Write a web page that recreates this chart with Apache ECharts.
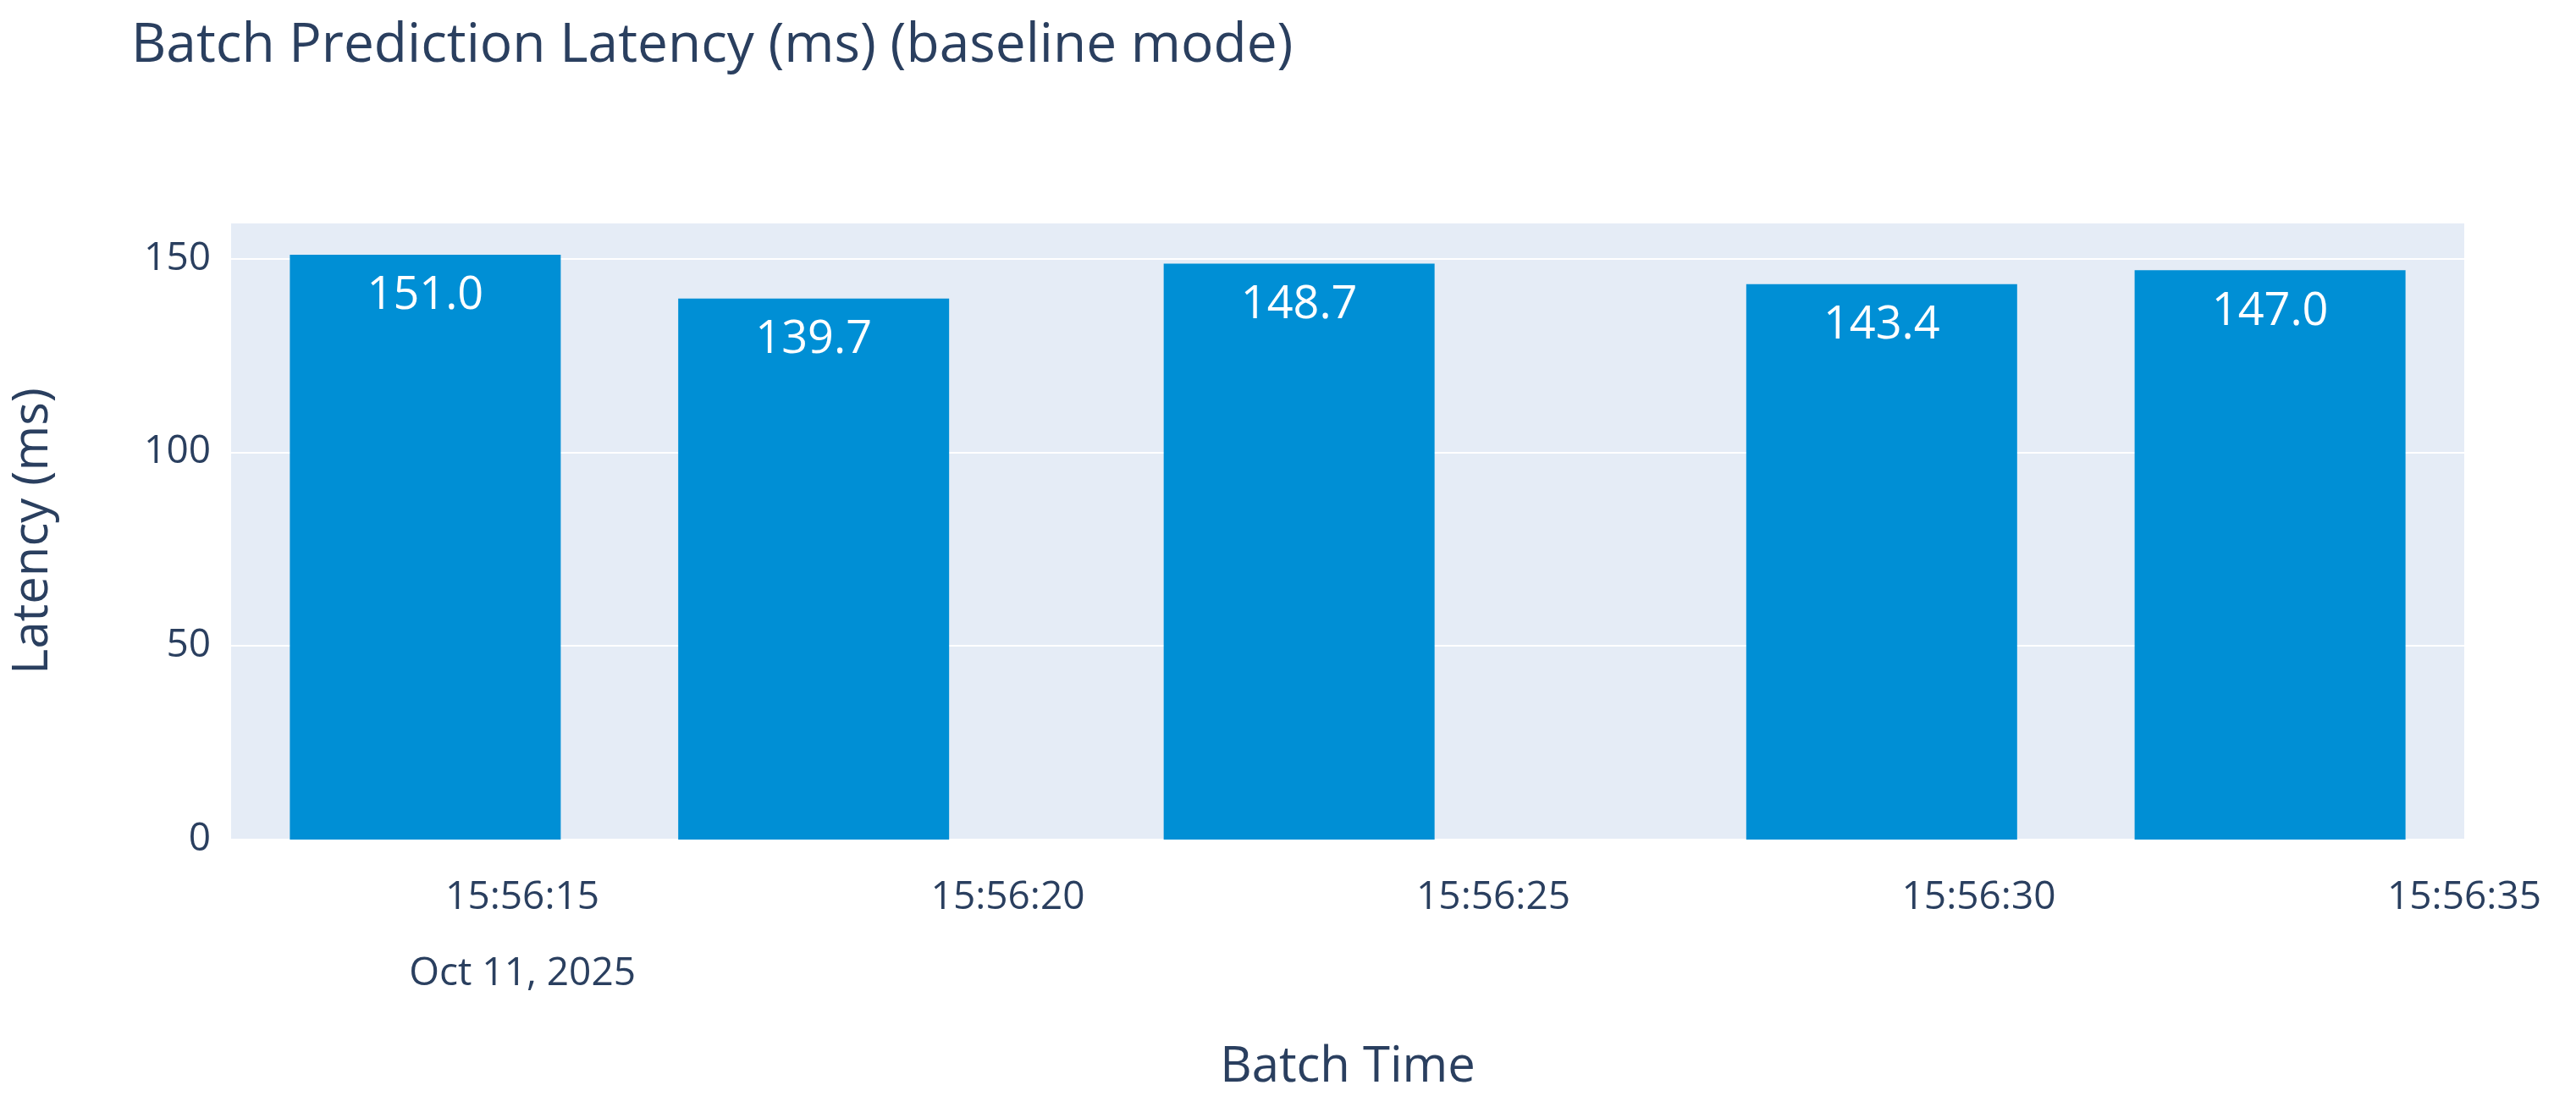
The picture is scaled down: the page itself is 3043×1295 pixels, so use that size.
<!DOCTYPE html>
<html><head><meta charset="utf-8">
<script src="https://cdn.jsdelivr.net/npm/echarts@6/dist/echarts.min.js"></script>
<style>html,body{margin:0;padding:0;background:#fff}#c{width:3043px;height:1295px}</style>
</head><body><div id="c"></div>
<script>
const batchTimes = ['2025-10-11T15:56:14','2025-10-11T15:56:18','2025-10-11T15:56:23','2025-10-11T15:56:29','2025-10-11T15:56:33'];
const latencies = [151.0, 139.7, 148.7, 143.4, 147.0];
const tickTimes = ['2025-10-11T15:56:15','2025-10-11T15:56:20','2025-10-11T15:56:25','2025-10-11T15:56:30','2025-10-11T15:56:35'];
const ts = s => new Date(s).getTime();
const pad = n => String(n).padStart(2,'0');
const tickVals = tickTimes.map(ts);
const font = '"Open Sans", sans-serif';
const txt = '#2a3f5f';
const chart = echarts.init(document.getElementById('c'));
chart.setOption({
  animation:false,
  title:{text:'Batch Prediction Latency (ms) (baseline mode)',left:150,top:18,textStyle:{fontFamily:font,fontSize:64,fontWeight:'normal',color:txt}},
  grid:{left:273,right:132,top:263,bottom:297,backgroundColor:'#e5ecf6',show:true,borderWidth:0},
  xAxis:{type:'value',min:ts('2025-10-11T15:56:12'),max:ts('2025-10-11T15:56:35'),
    name:'Batch Time',nameLocation:'middle',nameGap:240,nameTextStyle:{fontFamily:font,fontSize:58,color:txt},
    axisLine:{show:false},axisTick:{show:false},splitLine:{show:false},
    axisLabel:{customValues:tickVals,fontFamily:font,fontSize:46,color:txt,margin:24,lineHeight:90,showMaxLabel:true,
      formatter:(v)=>{const d=new Date(v);const s=pad(d.getHours())+':'+pad(d.getMinutes())+':'+pad(d.getSeconds());return v===tickVals[0]?s+'\nOct 11, 2025':s;}}},
  yAxis:{type:'value',min:0,max:159.3,interval:50,
    name:'Latency (ms)',nameLocation:'middle',nameGap:205,nameTextStyle:{fontFamily:font,fontSize:58,color:txt},
    axisLine:{show:false},axisTick:{show:false},
    splitLine:{lineStyle:{color:'#fff',width:2}},
    axisLabel:{fontFamily:font,fontSize:46,color:txt,margin:24,showMaxLabel:false}},
  series:[{type:'bar',barWidth:320,data:batchTimes.map((t,i)=>[ts(t),latencies[i]]),
    itemStyle:{color:'#008fd5'},
    label:{show:true,position:'insideTop',distance:22,fontFamily:font,fontSize:54,color:'#fff',formatter:p=>p.value[1].toFixed(1)}}]
});
</script></body></html>
